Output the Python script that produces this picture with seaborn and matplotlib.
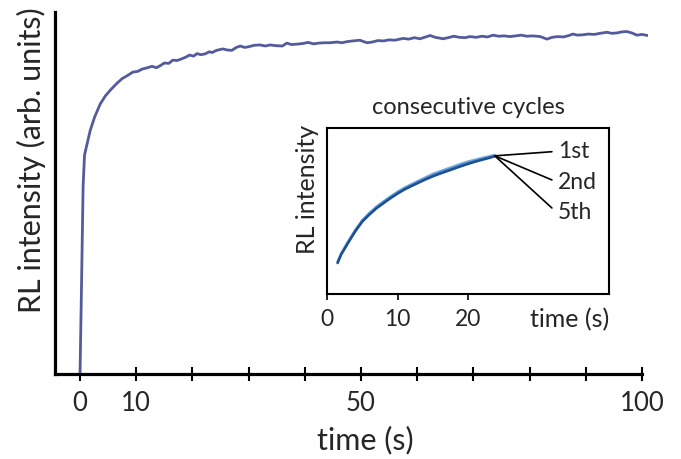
import matplotlib
matplotlib.use("Agg")
import matplotlib.pyplot as plt
import seaborn as sns
import pandas as pd

# ---------------- data ----------------
main_time = [0, 0.3, 0.55, 0.8, 1.2, 1.8, 2.6, 3.6, 4.5, 5.5, 6.5, 7.5, 8.5, 9.4, 10.3,
             11, 12, 12.8, 13.6, 14.3, 15, 15.8, 16.5, 17.3, 18, 18.8, 19.5, 20.2, 20.8,
             21.5, 22.2, 23, 23.5, 24.3, 25.4, 26.2, 27, 27.8, 28.5, 29.3, 30, 31, 32, 33,
             33.8, 34.8, 36, 36.8, 37.6, 38.5, 39.7, 40.6, 41.5, 42.5, 43.5, 44.5, 45.7,
             46.6, 47.5, 48.5, 49.8, 50.5, 51.1, 52, 53, 54, 55, 56, 57.5, 58.5, 59.5, 60.5,
             61.5, 62.3, 63.2, 64.6, 65.5, 66.5, 67.5, 68.5, 69.4, 70.5, 71.5, 72.5, 73.5,
             74.5, 75.5, 76.5, 77.5, 78.5, 79.5, 80.5, 81.9, 83.1, 84, 85, 86, 87, 87.7,
             88.5, 89.5, 90.5, 91.5, 92.5, 93.8, 94.6, 95.5, 96.4, 97.3, 98.2, 99.1, 100, 101]
main_intensity = [0, 28, 52, 60.5, 63.2, 67.2, 71, 74.6, 76.8, 78.6, 80.2, 81.6, 82.5, 83.4, 83.6,
                  84.2, 84.6, 85.0, 84.6, 85.2, 85.9, 85.8, 86.7, 86.6, 87.0, 87.5, 88.1, 87.8, 88.5,
                  88.2, 88.4, 89.0, 88.8, 89.4, 89.8, 89.5, 89.4, 90.2, 90.6, 90.2, 90.4, 90.8, 90.9, 90.6,
                  90.9, 90.7, 90.6, 91.4, 91.0, 91.1, 91.3, 91.6, 91.2, 91.4, 91.5, 91.5, 91.7,
                  91.5, 91.8, 92.0, 92.2, 91.8, 91.5, 91.7, 92.1, 92.0, 92.3, 92.2, 92.7, 92.5, 92.9, 92.6,
                  93.1, 93.5, 93.0, 92.6, 92.9, 93.3, 93.0, 92.9, 93.2, 93.0, 93.3, 93.1, 93.6,
                  93.3, 93.4, 93.2, 93.4, 93.6, 93.3, 93.4, 93.2, 92.5, 93.0, 93.2, 93.1, 93.5, 93.9,
                  93.6, 93.7, 93.9, 93.8, 94.1, 94.4, 94.1, 94.2, 94.5, 94.6, 94.2, 93.6, 93.8, 93.5]

main_ticks = [0, 10, 20, 30, 40, 50, 60, 70, 80, 90, 100]
main_tick_labels = ["0", "10", "", "", "", "50", "", "", "", "", "100"]

inset_time = [1.5, 2, 3, 4, 5, 6, 7, 8, 9, 10, 11, 12, 13, 14, 15, 16, 17, 18, 19, 20, 21, 22, 23, 23.8]
cycle_1st = [19.5, 24.5, 31.8, 38.6, 44.5, 48.8, 52.6, 55.8, 58.8, 61.6, 64.1, 66.2, 68.3, 70.3,
             72.4, 73.9, 75.4, 76.9, 78.5, 79.8, 80.9, 82.0, 83.0, 83.8]
cycle_2nd = [19.0, 24.0, 31.2, 38.1, 44.0, 48.2, 52.0, 55.1, 58.1, 60.9, 63.4, 65.5, 67.5, 69.5,
             71.4, 73.0, 74.5, 76.0, 77.5, 78.9, 80.1, 81.2, 82.3, 83.2]
cycle_5th = [18.6, 23.6, 30.8, 37.6, 43.5, 47.7, 51.5, 54.6, 57.6, 60.4, 62.9, 65.0, 67.0, 69.0,
             70.8, 72.4, 73.9, 75.4, 76.9, 78.3, 79.6, 80.8, 81.9, 82.9]
cycle_names = ["1st", "2nd", "5th"]
label_y = [85.7, 66.9, 48.8]
leader_end_y = [85.7, 68.7, 51.8]

# ---------------- style ----------------
sns.set_style("white")
plt.rcParams['font.family'] = ['Lato', 'DejaVu Sans']

fig = plt.figure(figsize=(6.81, 4.59), dpi=100)

# main axes
ax = fig.add_axes([0.0808, 0.1852, 0.8708, 0.7887])
main_df = pd.DataFrame({"time": main_time, "intensity": main_intensity})
sns.lineplot(data=main_df, x="time", y="intensity", ax=ax, color="#545b9c", linewidth=2.0)
ax.set_xlim(-4.45, 101.07)
ax.set_ylim(0, 100)
for s in ["top", "right"]:
    ax.spines[s].set_visible(False)
for s in ["left", "bottom"]:
    ax.spines[s].set_linewidth(2.3)
    ax.spines[s].set_color("black")
ax.spines["bottom"].set_bounds(-4.45, 100)
ax.set_xticks(main_ticks)
ax.set_xticklabels(main_tick_labels)
ax.set_yticks([])
ax.tick_params(axis="x", direction="inout", length=10, width=1.5, color="black",
               labelsize=18.5, pad=7.5, bottom=True)
ax.set_xlabel("time (s)", fontsize=22)
ax.xaxis.set_label_coords(0.523, -0.143)
ax.set_ylabel("RL intensity (arb. units)", fontsize=22)
ax.yaxis.set_label_coords(-0.016, 0.591)

# inset axes
ins = fig.add_axes([0.4802, 0.3595, 0.4141, 0.3617])
colors = ["#7aaee0", "#3f7cc4", "#1d4f8f"]
for name, vals, c in zip(cycle_names, [cycle_1st, cycle_2nd, cycle_5th], colors):
    df = pd.DataFrame({"time": inset_time, "intensity": vals})
    sns.lineplot(data=df, x="time", y="intensity", ax=ins, color=c, linewidth=1.7)
ins.set_xlim(0, 40)
ins.set_ylim(0, 100)
for s in ins.spines.values():
    s.set_visible(True)
    s.set_linewidth(1.5)
    s.set_color("black")
ins.set_xticks([0, 10, 20])
ins.set_yticks([])
ins.tick_params(axis="x", direction="out", length=4, width=1.2, color="black",
                labelsize=16.5, pad=7, bottom=True)
ins.set_xlabel("time (s)", fontsize=18)
ins.xaxis.set_label_coords(1.0, -0.085)
ins.xaxis.label.set_horizontalalignment("right")
ins.set_ylabel("RL intensity", fontsize=18)
ins.yaxis.set_label_coords(-0.027, 0.627)
ins.set_title("consecutive cycles", fontsize=17, pad=10)

x0, y0 = inset_time[-1], cycle_2nd[-1]
for name, ly, ey in zip(cycle_names, label_y, leader_end_y):
    ins.plot([x0, 31.9], [y0, ey], color="black", linewidth=1.2)
    ins.text(32.8, ly, name, fontsize=16.5, va="center", ha="left")

fig.savefig("out.png", dpi=100)
